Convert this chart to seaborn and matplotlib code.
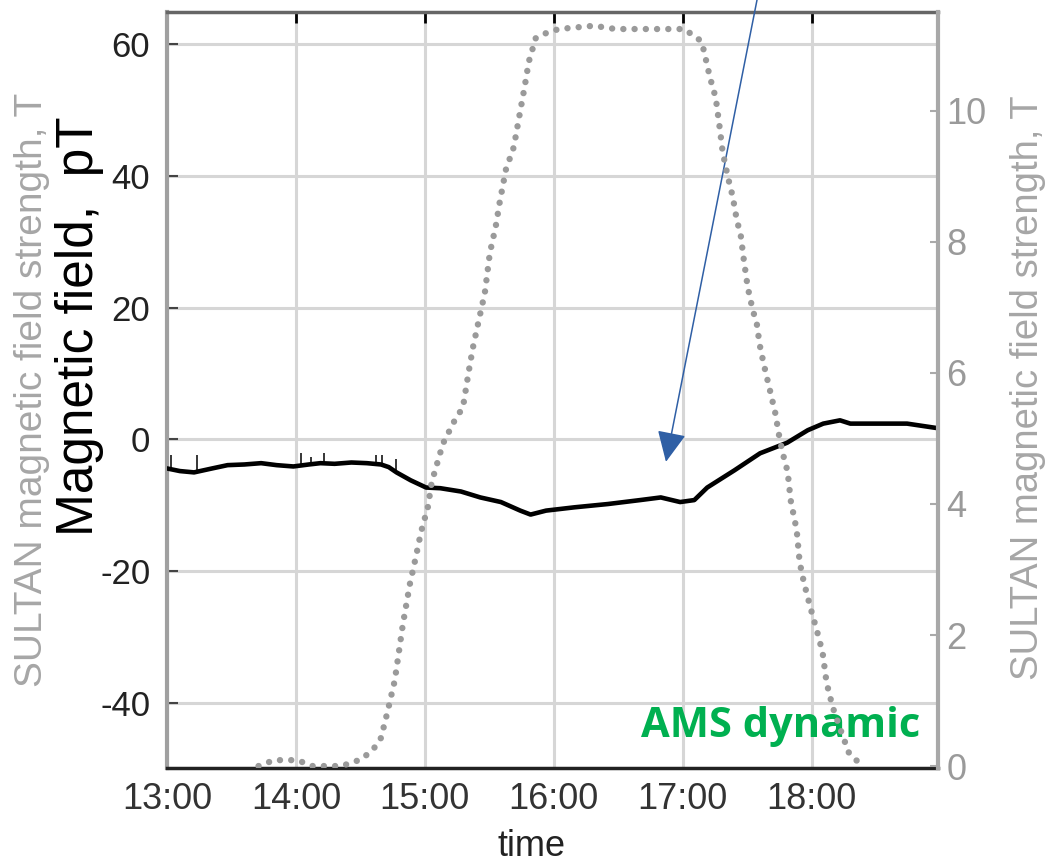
import numpy as np
import pandas as pd
import matplotlib
matplotlib.use("Agg")
import matplotlib.pyplot as plt
import seaborn as sns

# ---------------- data ----------------
field_hours = [13.00, 13.10, 13.21, 13.35, 13.47, 13.60, 13.73, 13.85, 13.98, 14.10,
               14.19, 14.30, 14.43, 14.55, 14.66, 14.72, 14.78, 14.89, 15.01, 15.12,
               15.28, 15.43, 15.59, 15.74, 15.82, 15.94, 16.16, 16.42, 16.67, 16.83,
               16.98, 17.09, 17.19, 17.40, 17.60, 17.81, 17.97, 18.09, 18.22, 18.30,
               18.48, 18.74, 18.98]
field_pT = [-4.4, -4.8, -5.0, -4.4, -3.9, -3.8, -3.6, -3.9, -4.1, -3.8,
            -3.6, -3.7, -3.5, -3.6, -3.8, -4.2, -5.0, -6.2, -7.3, -7.4,
            -7.9, -8.8, -9.5, -10.8, -11.4, -10.8, -10.3, -9.8, -9.2, -8.8,
            -9.5, -9.2, -7.3, -4.7, -2.1, -0.5, 1.4, 2.4, 2.9, 2.4,
            2.4, 2.4, 1.7]

spike_hours = [13.03, 13.23, 14.04, 14.12, 14.22, 14.62, 14.67, 14.78]
spike_base = [-4.4, -5.0, -4.1, -3.8, -3.6, -3.8, -3.9, -5.0]
spike_top = [-2.4, -2.4, -2.1, -2.7, -2.0, -2.3, -2.4, -2.9]

sultan_hours = [13.71, 13.83, 13.93, 14.01, 14.13, 14.35, 14.45, 14.52, 14.605, 14.66,
                14.713, 14.767, 14.83, 14.884, 14.93, 14.97, 15.023, 15.054, 15.14, 15.24,
                15.295, 15.34, 15.372, 15.419, 15.465, 15.504, 15.55, 15.58, 15.628, 15.69,
                15.729, 15.775, 15.806, 15.86, 15.953, 16.04, 16.31, 16.48, 17.008, 17.078,
                17.14, 17.163, 17.21, 17.256, 17.287, 17.31, 17.349, 17.388, 17.419, 17.45,
                17.473, 17.504, 17.543, 17.574, 17.597, 17.628, 17.659, 17.682, 17.72, 17.744,
                17.775, 17.814, 17.837, 17.884, 17.907, 17.938, 17.969, 18.0, 18.039, 18.085,
                18.116, 18.163, 18.225, 18.287, 18.38]
sultan_T = [0.0, 0.09, 0.09, 0.09, 0.0, 0.0, 0.06, 0.12, 0.27, 0.43,
            0.85, 1.31, 2.17, 2.78, 3.19, 3.57, 3.95, 4.34, 4.92, 5.31,
            5.47, 6.02, 6.38, 6.81, 7.22, 7.83, 8.24, 8.6, 9.1, 9.45,
            9.88, 10.38, 10.75, 11.11, 11.2, 11.25, 11.3, 11.25, 11.25, 11.16,
            11.07, 10.93, 10.52, 10.2, 9.74, 9.37, 9.0, 8.69, 8.34, 8.1,
            7.74, 7.31, 6.96, 6.76, 6.43, 6.14, 5.88, 5.69, 5.37, 5.08,
            4.78, 4.49, 4.06, 3.6, 3.11, 2.82, 2.58, 2.35, 2.08, 1.73,
            1.27, 0.9, 0.55, 0.21, 0.02]

x_ticks = [13, 14, 15, 16, 17, 18]
x_labels = ["13:00", "14:00", "15:00", "16:00", "17:00", "18:00"]
left_ticks = [-40, -20, 0, 20, 40, 60]
right_ticks = [0, 2, 4, 6, 8, 10]

# ---------------- style ----------------
sns.set_theme(style="white")
plt.rcParams["font.family"] = ["Liberation Sans", "DejaVu Sans"]

W, H = 1053, 864
fig = plt.figure(figsize=(W / 100, H / 100), dpi=100)
ax = fig.add_axes([167 / W, 1 - 768 / H, (938 - 167) / W, (768 - 12) / H])
ax2 = ax.twinx()

field_df = pd.DataFrame({"hour": field_hours, "pT": field_pT})
sultan_df = pd.DataFrame({"hour": sultan_hours, "T": sultan_T})

sns.lineplot(data=field_df, x="hour", y="pT", ax=ax, color="black", lw=3.3,
             estimator=None, sort=False, zorder=3)
ax.vlines(spike_hours, spike_base, spike_top, color="black", lw=1.1, zorder=3)

sns.lineplot(data=sultan_df, x="hour", y="T", ax=ax2, color="#9a9a9a", lw=4.6,
             estimator=None, sort=False, linestyle=(0, (0.01, 1.75)),
             dash_capstyle="round")

ax.set_xlim(13.0, 18.98)
ax.set_ylim(-49.85, 64.85)
ax2.set_ylim(-0.03, 11.51)

ax.set_xticks(x_ticks)
ax.set_xticklabels(x_labels)
ax.set_yticks(left_ticks)
ax.set_yticklabels([str(v) for v in left_ticks])
ax2.set_yticks(right_ticks)
ax2.set_yticklabels([str(v) for v in right_ticks])

ax.grid(True, color="#d6d6d6", lw=2.2)
ax2.grid(False)
ax.set_axisbelow(True)

ax.tick_params(axis="x", direction="in", length=8, width=2, colors="black",
               labelcolor="#333333", labelsize=26, pad=10, top=True)
ax.tick_params(axis="y", direction="in", length=8, width=1.5, colors="#444444",
               labelcolor="#222222", labelsize=25, pad=12, left=True, right=False)
ax2.tick_params(axis="y", direction="in", length=6, width=1.5, colors="#aaaaaa",
                labelcolor="#9a9a9a", labelsize=26, pad=6)

for a in (ax, ax2):
    for s in a.spines.values():
        s.set_visible(False)
ax.spines["left"].set_visible(True)
ax.spines["left"].set_color("#a0a0a0")
ax.spines["left"].set_linewidth(3)
ax.spines["top"].set_visible(True)
ax.spines["top"].set_color("#666666")
ax.spines["top"].set_linewidth(2.5)
ax.spines["bottom"].set_visible(True)
ax.spines["bottom"].set_color("#222222")
ax.spines["bottom"].set_linewidth(2.5)
ax2.spines["right"].set_visible(True)
ax2.spines["right"].set_color("#a8a8a8")
ax2.spines["right"].set_linewidth(3)

ax.set_xlabel("")
ax.set_ylabel("")
ax2.set_ylabel("")

fig.text(532 / W, 1 - 847 / H, "time", ha="center", va="center",
         fontsize=26, color="#222222")
fig.text(32 / W, 1 - 390 / H, "SULTAN magnetic field strength, T", rotation=90,
         ha="center", va="center", fontsize=28, color="#a6a6a6")
fig.text(80 / W, 1 - 326 / H, "Magnetic field,  pT", rotation=90,
         ha="center", va="center", fontsize=37, color="black")
fig.text(1028 / W, 1 - 388 / H, "SULTAN magnetic field strength, T", rotation=90,
         ha="center", va="center", fontsize=27.5, color="#a6a6a6")

ax.text((920 - 167) / 771, (768 - 737) / 756, "AMS dynamic", transform=ax.transAxes,
        ha="right", va="baseline", fontsize=30, fontweight="bold",
        family=["Open Sans", "DejaVu Sans"], color="#00b050", zorder=5)

ax.annotate("", xy=(16.87, -3.4), xycoords="data",
            xytext=(757 / W, 1.0), textcoords="figure fraction",
            arrowprops=dict(arrowstyle="-|>,head_length=0.95,head_width=0.45",
                            mutation_scale=20, color="#2f5fa5", lw=1.1,
                            shrinkA=0, shrinkB=0),
            annotation_clip=False, zorder=6)

fig.savefig("out.png", dpi=100)
